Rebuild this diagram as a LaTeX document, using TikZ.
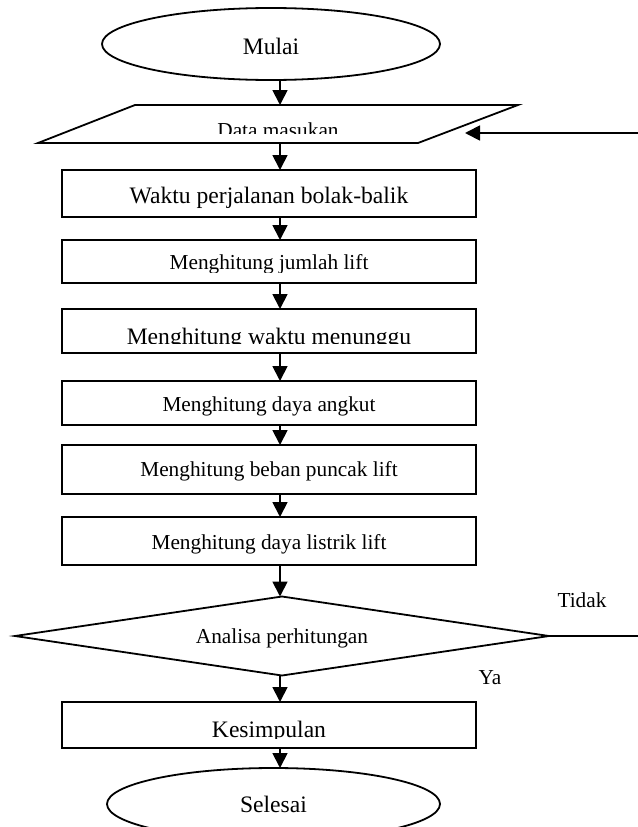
\documentclass[tikz,border=0pt]{standalone}
\usepackage{fontspec}
\setmainfont{Liberation Serif}
\usetikzlibrary{shapes.geometric,arrows.meta,calc}
\newcommand\bigfnt{\fontsize{23.6}{28}\selectfont}
\newcommand\smallfnt{\fontsize{21.3}{25}\selectfont}
\begin{document}
\begin{tikzpicture}[x=1pt,y=-1pt,line width=1.8pt,
  every node/.style={inner sep=0pt,outer sep=0pt},
  term/.style={draw,ellipse,minimum width=338pt,minimum height=72pt},
  procbox/.style={draw,rectangle,minimum width=414pt},
  bigtxt/.style={font=\bigfnt,anchor=base},
  smalltxt/.style={font=\smallfnt,anchor=base},
  arr/.style={-{Triangle[length=15pt,width=15pt]}}]
\useasboundingbox (0,0) rectangle (637,827);
\coordinate (ax) at (280,0);

% start
\node[term] (start) at (271,44) {};
\node[bigtxt] (tstart) at (271,54) {Mulai};

% input parallelogram
\draw (135,105) -- (518,105) -- (418,143) -- (38,143) -- cycle;
\node[minimum width=380pt,minimum height=38pt] (data) at (278,124) {};
\begin{scope}
  \clip (30,105) rectangle (530,133);
  \node[smalltxt] (tdata) at (278,137) {Data masukan};
\end{scope}

% boxes
\node[procbox,minimum height=47pt] (b1) at (269,193.5) {};
\node[bigtxt] (t1) at (269,203) {Waktu perjalanan bolak-balik};

\node[procbox,minimum height=43pt] (b2) at (269,261.5) {};
\begin{scope}
  \clip (62,240) rectangle (476,272);
  \node[smalltxt] (t2) at (269,269) {Menghitung jumlah lift};
\end{scope}

\node[procbox,minimum height=44pt] (b3) at (269,331) {};
\begin{scope}
  \clip (62,309) rectangle (476,343);
  \node[bigtxt] (t3) at (269,344) {Menghitung waktu menunggu};
\end{scope}

\node[procbox,minimum height=44pt] (b4) at (269,403) {};
\node[smalltxt] (t4) at (269,411) {Menghitung daya angkut};

\node[procbox,minimum height=49pt] (b5) at (269,469.5) {};
\node[smalltxt] (t5) at (269,476) {Menghitung beban puncak lift};

\node[procbox,minimum height=48pt] (b6) at (269,541) {};
\node[smalltxt] (t6) at (269,549) {Menghitung daya listrik lift};

% decision
\node[draw,diamond,minimum width=534pt,minimum height=79pt] (dec) at (282,636) {};
\node[smalltxt] (tdec) at (282,643) {Analisa perhitungan};
\node[smalltxt] (tno) at (582,607) {Tidak};
\node[smalltxt] (tyes) at (490,684) {Ya};

% conclusion
\node[procbox,minimum height=46pt] (b7) at (269,725) {};
\begin{scope}
  \clip (62,702) rectangle (476,738.5);
  \node[bigtxt] (t7) at (269,737) {Kesimpulan};
\end{scope}

% end
\node[term,minimum width=333pt] (stop) at (273.5,804) {};
\node[bigtxt] (tstop) at (273.5,812) {Selesai};

% connectors
\draw[arr] (start.south -| ax) -- (data.north -| ax);
\draw[arr] (data.south -| ax) -- (b1.north -| ax);
\draw[arr] (b1.south -| ax) -- (b2.north -| ax);
\draw[arr] (b2.south -| ax) -- (b3.north -| ax);
\draw[arr] (b3.south -| ax) -- (b4.north -| ax);
\draw[arr] (b4.south -| ax) -- (b5.north -| ax);
\draw[arr] (b5.south -| ax) -- (b6.north -| ax);
\draw[arr] (b6.south -| ax) -- (dec.north -| ax);
\draw[arr] (dec.south -| ax) -- (b7.north -| ax);
\draw[arr] (b7.south -| ax) -- (stop.north -| ax);

% feedback loop (vertical part lies beyond the right edge)
\coordinate (fbin) at (465,133);
\coordinate (fbc) at (642,0);
\draw[arr] (dec.east) -- (dec.east -| fbc) -- (fbin -| fbc) -- (fbin);
\end{tikzpicture}
\end{document}
